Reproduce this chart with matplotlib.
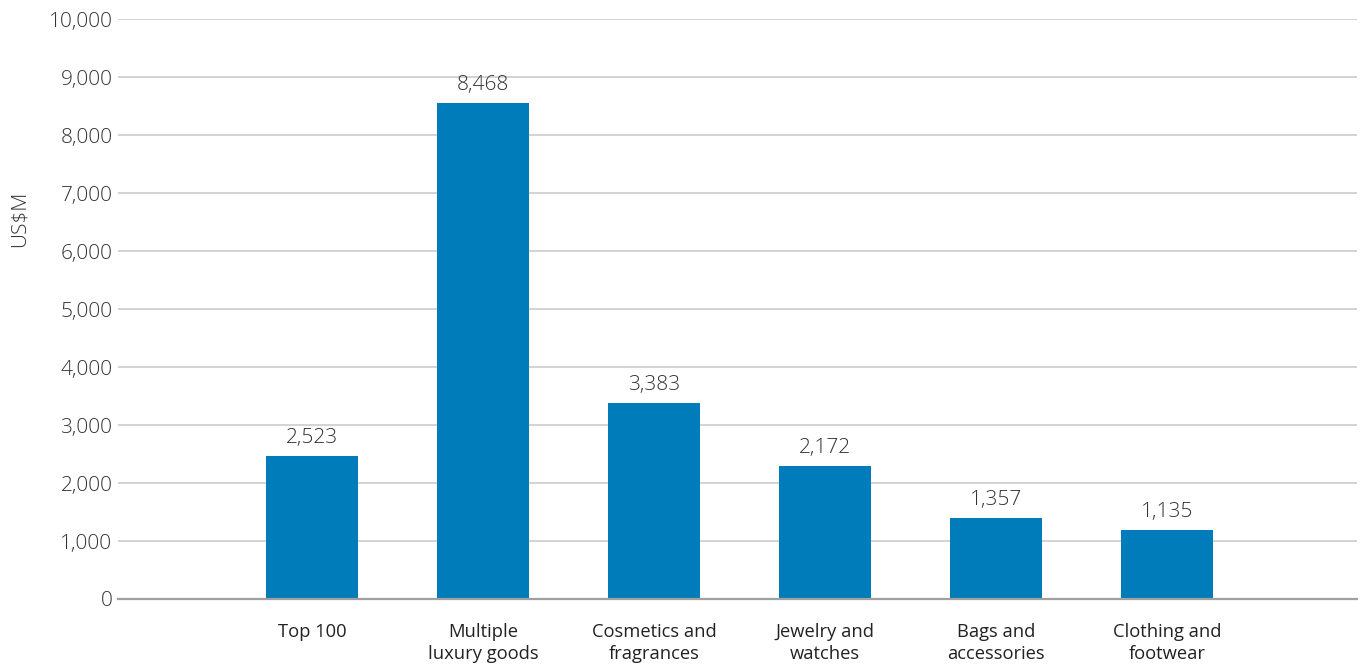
import matplotlib
matplotlib.use("Agg")
import matplotlib.pyplot as plt
from matplotlib.ticker import FuncFormatter

categories = ["Top 100", "Multiple\nluxury goods", "Cosmetics and\nfragrances",
              "Jewelry and\nwatches", "Bags and\naccessories", "Clothing and\nfootwear"]
bar_heights = [2470, 8550, 3385, 2295, 1400, 1190]
value_labels = ["2,523", "8,468", "3,383", "2,172", "1,357", "1,135"]
y_ticks = [0, 1000, 2000, 3000, 4000, 5000, 6000, 7000, 8000, 9000, 10000]

BAR_COLOR = "#007cba"
TEXT_COLOR = "#333333"
FONT = ["Open Sans", "DejaVu Sans"]

plt.rcParams['font.family'] = FONT

W, H = 1364, 665
fig = plt.figure(figsize=(W / 100, H / 100), dpi=100)
L, R, B, T = 118, 1357, 599, 19.3
ax = fig.add_axes([L / W, (H - B) / H, (R - L) / W, (B - T) / H])

x = list(range(len(categories)))
ax.bar(x, bar_heights, width=0.54, color=BAR_COLOR, zorder=3)

for xi, h, lab in zip(x, bar_heights, value_labels):
    ax.annotate(lab, (xi, h), xytext=(0, 9.5), textcoords="offset points",
                ha="center", va="baseline", fontsize=15, color=TEXT_COLOR,
                fontweight="light")

px = 171.0
ax.set_xlim((L - 312) / px, (R - 312) / px)
ax.set_ylim(0, 10000)
ax.set_yticks(y_ticks)
ax.yaxis.set_major_formatter(FuncFormatter(lambda v, p: f"{int(v):,}"))
ax.set_xticks(x)
ax.set_xticklabels(categories, linespacing=1.28)

ax.grid(axis="y", color="#c8c8c8", linewidth=1.1, zorder=0)
ax.grid(axis="x", visible=False)
for s in ["top", "right", "left"]:
    ax.spines[s].set_visible(False)
ax.spines["bottom"].set_color("#a0a0a0")
ax.spines["bottom"].set_linewidth(1.6)
ax.spines["bottom"].set_zorder(4)

ax.tick_params(axis="y", length=0, pad=4, labelsize=15, labelcolor=TEXT_COLOR)
ax.tick_params(axis="x", length=0, pad=17, labelsize=13.2, labelcolor="#222222")
for t in ax.get_yticklabels():
    t.set_fontweight("light")
for t in ax.get_xticklabels():
    t.set_fontweight("normal")

ax.set_ylabel("US$M", fontsize=15, color=TEXT_COLOR, fontweight="light")
ax.yaxis.set_label_coords((30 - L) / (R - L), (B - 219) / (B - T))

fig.savefig("out.png", dpi=100, facecolor="white")
